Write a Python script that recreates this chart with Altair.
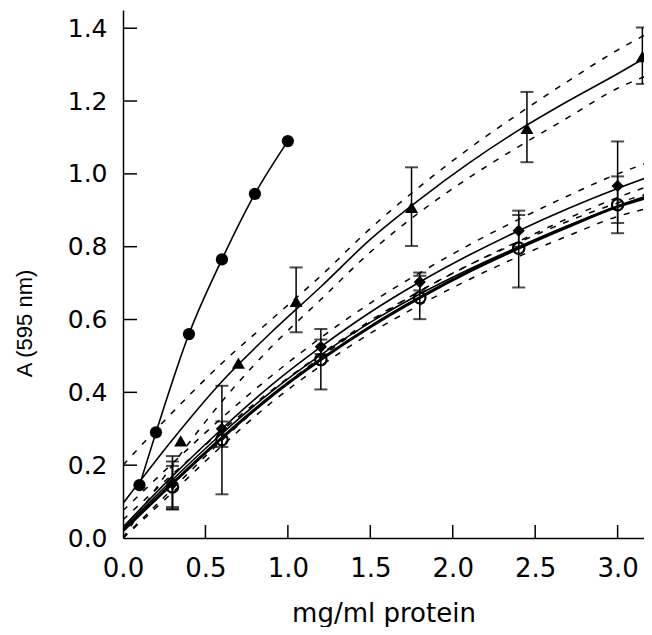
import altair as alt
import pandas as pd

# ---------------- data ----------------
circle_x = [0.1, 0.2, 0.4, 0.6, 0.8, 1.0]
circle_y = [0.145, 0.29, 0.56, 0.765, 0.945, 1.09]

tri_x = [0.35, 0.7, 1.05, 1.75, 2.45, 3.15]
tri_y = [0.267, 0.48, 0.65, 0.908, 1.125, 1.322]
tri_err_x = [1.05, 1.75, 2.45, 3.15]
tri_lo = [0.565, 0.802, 1.032, 1.247]
tri_hi = [0.743, 1.018, 1.225, 1.402]

dia_x = [0.3, 0.6, 1.2, 1.8, 2.4, 3.0]
dia_y = [0.15, 0.30, 0.525, 0.703, 0.844, 0.967]
dia_lo = [0.08, 0.25, 0.505, 0.68, 0.80, 0.837]
dia_hi = [0.225, 0.32, 0.545, 0.729, 0.887, 1.089]

open_x = [0.3, 0.6, 1.2, 1.8, 2.4, 3.0]
open_y = [0.14, 0.27, 0.49, 0.66, 0.796, 0.915]
open_lo = [0.078, 0.12, 0.408, 0.601, 0.688, 0.865]
open_hi = [0.21, 0.418, 0.574, 0.72, 0.899, 0.993]

extra_err_x = [0.3]
extra_lo = [0.085]
extra_hi = [0.198]

# fitted curves
fit_x = [0, 0.3, 0.6, 0.9, 1.2, 1.5, 1.8, 2.1, 2.4, 2.7, 3.0, 3.18]
tri_fit = [0.095, 0.27, 0.43, 0.565, 0.69, 0.82, 0.93, 1.03, 1.12, 1.2, 1.275, 1.322]
tri_up = [0.2, 0.345, 0.48, 0.6, 0.72, 0.85, 0.965, 1.07, 1.165, 1.255, 1.34, 1.385]
tri_dn = [0.0, 0.2, 0.375, 0.525, 0.655, 0.785, 0.895, 0.99, 1.075, 1.155, 1.235, 1.27]
dia_fit = [0.03, 0.17, 0.30, 0.42, 0.525, 0.62, 0.703, 0.777, 0.844, 0.905, 0.96, 0.99]
dia_up = [0.075, 0.205, 0.33, 0.445, 0.55, 0.645, 0.728, 0.805, 0.875, 0.94, 1.0, 1.03]
dia_dn = [0.0, 0.135, 0.268, 0.39, 0.497, 0.593, 0.678, 0.75, 0.812, 0.87, 0.92, 0.945]
open_fit = [0.02, 0.15, 0.275, 0.39, 0.49, 0.58, 0.66, 0.732, 0.796, 0.855, 0.91, 0.935]
open_up = [0.05, 0.175, 0.295, 0.405, 0.505, 0.597, 0.678, 0.75, 0.815, 0.878, 0.935, 0.965]
open_dn = [0.0, 0.125, 0.253, 0.372, 0.473, 0.562, 0.64, 0.71, 0.773, 0.83, 0.883, 0.905]
third_fit = [0.025, 0.16, 0.287, 0.402, 0.503, 0.592, 0.67, 0.738, 0.8, 0.858, 0.912, 0.94]

x_ticks = [0.5, 1.0, 1.5, 2.0, 2.5, 3.0]
y_ticks = [0.2, 0.4, 0.6, 0.8, 1.0, 1.2, 1.4]
x_labels = [0.0, 0.5, 1.0, 1.5, 2.0, 2.5, 3.0]
y_labels = [0.0, 0.2, 0.4, 0.6, 0.8, 1.0, 1.2, 1.4]

# ---------------- tables ----------------
def curves(names_vals):
    rows = []
    for name, vals in names_vals:
        for xv, yv in zip(fit_x, vals):
            rows.append({"x": xv, "y": yv, "curve": name})
    return pd.DataFrame(rows)

dashed_df = curves([("tu", tri_up), ("td", tri_dn), ("du", dia_up), ("dd", dia_dn),
                    ("ou", open_up), ("od", open_dn)])
thin_df = curves([("tf", tri_fit), ("df", dia_fit), ("hf", third_fit)])
thick_df = curves([("of", open_fit)])
circ_df = pd.DataFrame({"x": circle_x, "y": circle_y})
tri_df = pd.DataFrame({"x": tri_x, "y": tri_y})
dia_df = pd.DataFrame({"x": dia_x, "y": dia_y})
open_df = pd.DataFrame({"x": open_x, "y": open_y})
err_df = pd.DataFrame({
    "x": tri_err_x + dia_x + open_x + extra_err_x,
    "lo": tri_lo + dia_lo + open_lo + extra_lo,
    "hi": tri_hi + dia_hi + open_hi + extra_hi,
})
xt_df = pd.DataFrame({"v": x_ticks})
yt_df = pd.DataFrame({"v": y_ticks})

W, H = 521, 528
xscale = alt.Scale(domain=[0, 3.16], nice=False, zero=False)
yscale = alt.Scale(domain=[0, 1.45], nice=False, zero=False)

xaxis = alt.Axis(values=x_labels, format=".1f", ticks=False, tickSize=0, grid=False,
                 domainColor="black", domainWidth=1.5,
                 labelFont="DejaVu Sans", labelFontSize=26, labelColor="black",
                 labelPadding=38, labelBaseline="alphabetic", labelFlush=False,
                 labelOverlap=False, title="mg/ml protein", titleFont="DejaVu Sans",
                 titleFontSize=26, titleFontWeight="normal", titleColor="black",
                 titleY=83, titleBaseline="alphabetic")
yaxis = alt.Axis(values=y_labels, format=".1f", ticks=False, tickSize=0, grid=False,
                 domainColor="black", domainWidth=1.5,
                 labelFont="DejaVu Sans", labelFontSize=25, labelColor="black",
                 labelPadding=16, labelFlush=False, labelOverlap=False,
                 title="A (595 nm)", titleFont="Liberation Sans",
                 titleFontSize=22, titleFontWeight="normal", titleColor="black",
                 titleX=-99, titleY=313, titleBaseline="middle")

def X(f):
    return alt.X(f"{f}:Q", scale=xscale, axis=xaxis)

def Y(f):
    return alt.Y(f"{f}:Q", scale=yscale, axis=yaxis)

xticks = alt.Chart(xt_df).mark_rule(color="black", strokeWidth=1.5).encode(
    x=X("v"), y=alt.value(H), y2=alt.value(H - 13))
yticks = alt.Chart(yt_df).mark_rule(color="black", strokeWidth=1.5).encode(
    y=Y("v"), x=alt.value(0), x2=alt.value(14))

dashed = alt.Chart(dashed_df).mark_line(color="black", strokeWidth=1.5, strokeDash=[6, 8],
                                        interpolate="monotone", clip=True).encode(
    x=X("x"), y=Y("y"), detail="curve:N")
thin = alt.Chart(thin_df).mark_line(color="black", strokeWidth=1.6,
                                    interpolate="monotone", clip=True).encode(
    x=X("x"), y=Y("y"), detail="curve:N")
thick = alt.Chart(thick_df).mark_line(color="black", strokeWidth=3,
                                      interpolate="monotone", clip=True).encode(
    x=X("x"), y=Y("y"))
circ_line = alt.Chart(circ_df).mark_line(color="black", strokeWidth=1.6,
                                         interpolate="monotone").encode(x=X("x"), y=Y("y"))

err_rule = alt.Chart(err_df).mark_rule(color="black", strokeWidth=1.5).encode(
    x=X("x"), y=Y("lo"), y2="hi:Q")
cap_lo = alt.Chart(err_df).mark_tick(color="black", orient="horizontal", thickness=2,
                                     size=13).encode(x=X("x"), y=Y("lo"))
cap_hi = alt.Chart(err_df).mark_tick(color="black", orient="horizontal", thickness=2,
                                     size=13).encode(x=X("x"), y=Y("hi"))

circ_pts = alt.Chart(circ_df).mark_point(shape="circle", filled=True, color="black",
                                         size=150, opacity=1).encode(x=X("x"), y=Y("y"))
tri_pts = alt.Chart(tri_df).mark_point(shape="triangle-up", filled=True, color="black",
                                       size=170, opacity=1).encode(x=X("x"), y=Y("y"))
dia_pts = alt.Chart(dia_df).mark_point(shape="diamond", filled=True, color="black",
                                       size=150, opacity=1).encode(x=X("x"), y=Y("y"))
open_pts = alt.Chart(open_df).mark_point(shape="circle", filled=False, color="black",
                                         strokeWidth=2.2, size=130, opacity=1).encode(
    x=X("x"), y=Y("y"))

chart = alt.layer(
    xticks, yticks, dashed, thin, thick, circ_line, err_rule, cap_lo, cap_hi,
    circ_pts, tri_pts, dia_pts, open_pts
).properties(
    width=W, height=H,
    autosize=alt.AutoSizeParams(type="none"),
    padding={"left": 115, "top": 2, "right": 0, "bottom": 89},
    background="white",
).configure_view(stroke=None)

chart.save("out.html", embed_options={"renderer": "svg", "actions": False})
